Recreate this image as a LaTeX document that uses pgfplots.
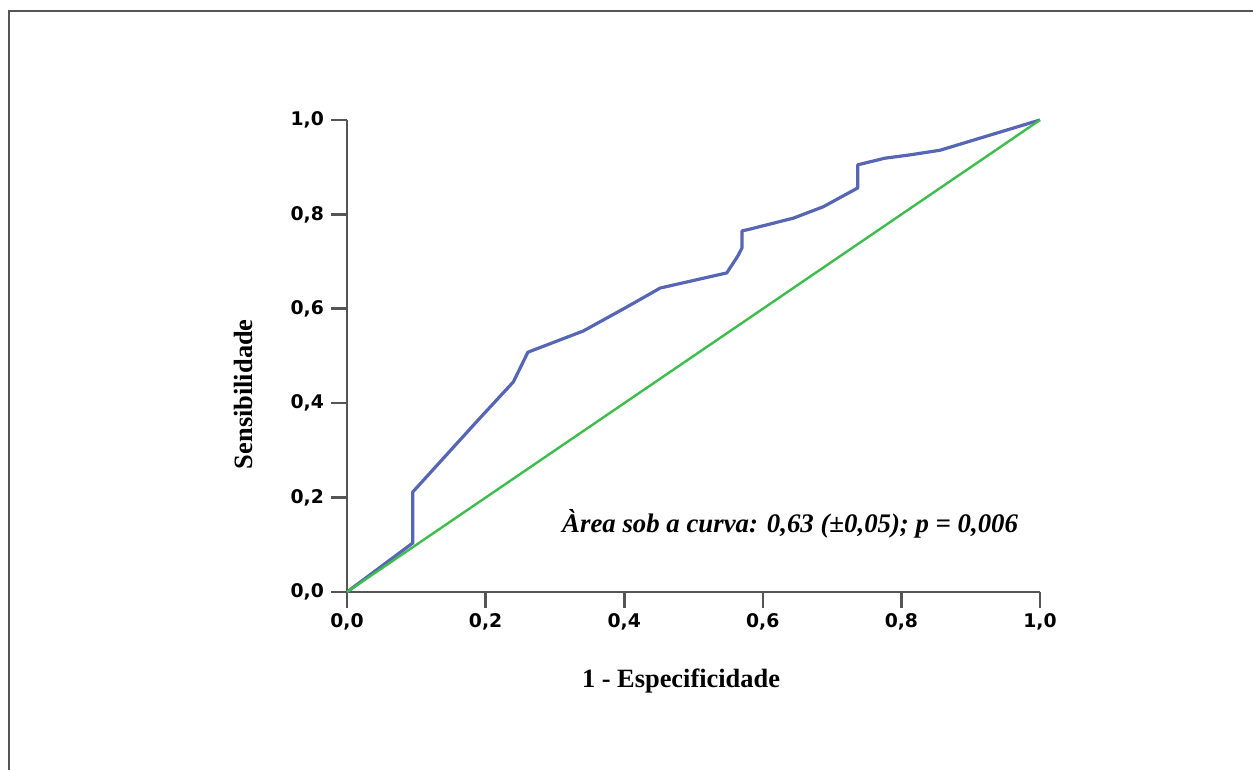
\documentclass[border=0pt]{standalone}
\usepackage{fontspec}
\setmainfont{Liberation Serif}
\newfontfamily\ticksfont{DejaVu Sans}
\usepackage{pgfplots}
\pgfplotsset{compat=1.18}
\definecolor{roc}{HTML}{5666B4}
\definecolor{ref}{HTML}{3CBD4C}
\definecolor{axgray}{HTML}{555555}
\begin{document}
\begin{tikzpicture}
\useasboundingbox (0,0) rectangle (626.5pt,385pt);
\draw[axgray, line width=1pt] (4.5pt,0) -- (4.5pt,379.5pt) -- (626.5pt,379.5pt);
\begin{axis}[
  at={(173.5pt,89pt)}, anchor=south west,
  scale only axis, width=346.5pt, height=236pt,
  xmin=0, xmax=1, ymin=0, ymax=1,
  axis x line*=bottom, axis y line*=left,
  axis line style={axgray, line width=1.3pt},
  xtick={0,0.2,0.4,0.6,0.8,1.0},
  ytick={0,0.2,0.4,0.6,0.8,1.0},
  tick align=outside, major tick length=8pt,
  tick style={axgray, line width=1.3pt},
  tick label style={font=\ticksfont\bfseries\fontsize{9.4}{11}\selectfont},
  xticklabel style={yshift=1pt},
  /pgf/number format/.cd, use comma, fixed, fixed zerofill, precision=1, assume math mode=true,
  /pgfplots/.cd,
  xlabel={1 - Especificidade},
  ylabel={Sensibilidade},
  label style={font=\bfseries\fontsize{13.2}{15}\selectfont},
  xlabel style={at={(axis description cs:0.482,-0.203)}, anchor=base},
  ylabel style={at={(axis description cs:-0.150,0.419)}, anchor=center, rotate=0},
  clip=false,
]
\addplot[roc, line width=1.6pt, line join=round] coordinates {
(0,0) (0.095,0.104) (0.095,0.212) (0.189,0.364) (0.240,0.445) (0.261,0.508)
(0.341,0.553) (0.404,0.604) (0.452,0.644) (0.548,0.676) (0.564,0.712)
(0.570,0.729) (0.570,0.765) (0.582,0.769) (0.644,0.792) (0.687,0.816)
(0.737,0.856) (0.737,0.905) (0.776,0.919) (0.812,0.926) (0.856,0.936) (1,1)
};
\addplot[ref, line width=1.2pt] coordinates {(0,0) (1,1)};
\node[anchor=base west, font=\bfseries\itshape\fontsize{13.4}{15}\selectfont, inner sep=0pt]
  at (axis cs:0.310,0.125) {Àrea sob a curva: 0,63 (±0,05); p = 0,006};
\end{axis}
\end{tikzpicture}
\end{document}
